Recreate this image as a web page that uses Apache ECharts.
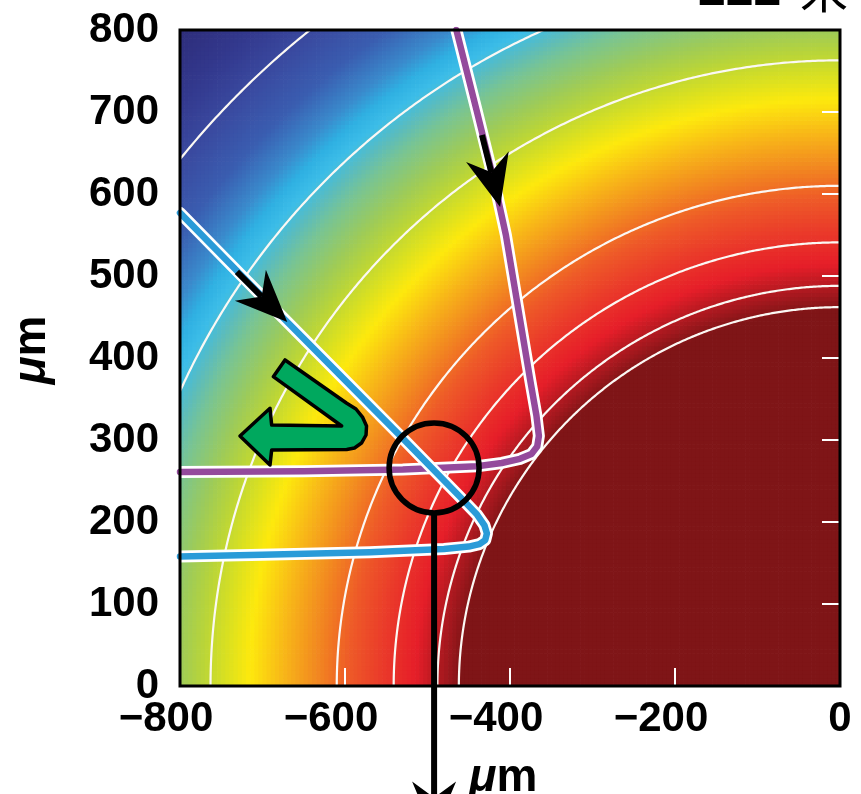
<!DOCTYPE html>
<html><head><meta charset="utf-8">
<script src="https://cdn.jsdelivr.net/npm/echarts@6/dist/echarts.min.js"></script>
<style>html,body{margin:0;padding:0;background:#fff}#c{width:861px;height:794px}</style>
</head><body><div id="c"></div>
<script>
// ---------- axes ----------
const xRange = [-800, 0];
const yRange = [0, 800];
const xTickStep = 200;
const yTickStep = 100;
const cellSize = 5; // heat-field sampling step (µm)

// ---------- radial field profile ----------
// distance from the origin (µm) -> colour level index
const profileRadius = [0, 458, 466, 478, 497, 515, 555, 595, 636, 676, 716, 745, 775, 800, 840, 862, 885, 905, 928, 970, 1020, 1070, 1135];
const profileColor = ['#7f1517','#7f1517','#8c1619','#a3181e','#c41b23','#e61e29','#ea3a2a','#ee5a28','#f28a20','#f8b818','#fde90d','#d9e021','#b7d43b','#9ecb58','#78c494','#5cbcbc','#3cbde8','#2fb0e2','#3a8acc','#3a5db0','#3a4aa0','#33398e','#2d2c79'];

// white contour lines (radius, µm)
const contourRadius = [462, 488, 541, 610, 763, 877, 1026];

// ---------- trajectories ----------
const blueTrackX = [-800, -679, -530, -461, -440, -431, -428, -430, -437, -450, -480, -570, -700, -800];
const blueTrackY = [577, 453, 302, 231, 209, 196, 186, 178, 173, 170, 167, 163, 160, 158];
const purpleTrackX = [-465, -440, -418, -405, -395, -385, -375, -368, -365, -367, -374, -388, -410, -440, -530, -650, -800];
const purpleTrackY = [800, 700, 610, 550, 490, 430, 370, 330, 305, 292, 283, 277, 272, 268, 264, 262, 261];

// black arrows: start -> tip
const arrowFromX = [-731, -434, -492];
const arrowFromY = [505, 672, 211];
const arrowToX = [-670, -412, -492];
const arrowToY = [444, 584, -180];

// black circle
const circleX = [-492];
const circleY = [266];

// green U-turn arrow outline
const greenArrowX = [-672.7, -597.9, -586.7, -578.8, -573.9, -574.5, -580.0, -588.5, -597.9, -688.9, -690.9, -727.3, -690.9, -688.9, -604.0, -686.9];
const greenArrowY = [397.6, 344.8, 337.8, 328.0, 317.1, 306.1, 296.3, 290.2, 288.4, 287.8, 269.5, 304.9, 338.7, 318.3, 317.1, 377.2];

// ---------- build tables ----------
function levelAt(r) {
  for (let i = 0; i < profileRadius.length - 1; i++) {
    if (r < profileRadius[i + 1]) return i + (r - profileRadius[i]) / (profileRadius[i + 1] - profileRadius[i]);
  }
  return profileRadius.length - 1;
}
const fieldData = [];
for (let x = xRange[0] + cellSize / 2; x < xRange[1]; x += cellSize) {
  for (let y = yRange[0] + cellSize / 2; y < yRange[1]; y += cellSize) {
    fieldData.push([x, y, levelAt(Math.sqrt(x * x + y * y))]);
  }
}
const zip = (a, b) => a.map((v, i) => [v, b[i]]);
const FONT = 'Liberation Sans, Arial, Helvetica, sans-serif';
const LABEL_SIZE = 42;
const NAME_SIZE = 46;

const chart = echarts.init(document.getElementById('c'), null, {renderer: 'canvas'});

const tickStyle = {show: true, inside: true, length: 18, lineStyle: {color: '#fff', width: 2}};
const xCommon = {type: 'value', min: xRange[0], max: xRange[1], interval: xTickStep, splitLine: {show: false}, axisLine: {show: false}, axisTick: tickStyle, z: 10};
const yCommon = {type: 'value', min: yRange[0], max: yRange[1], interval: yTickStep, splitLine: {show: false}, axisLine: {show: false}, axisTick: tickStyle, z: 10};
const nameRich = {
  i: {fontSize: NAME_SIZE, fontWeight: 'bold', fontStyle: 'italic', fontFamily: FONT, fill: '#000'},
  m: {fontSize: NAME_SIZE, fontWeight: 'bold', fontFamily: FONT, fill: '#000'}
};

chart.setOption({
  animation: false,
  backgroundColor: '#fff',
  grid: {left: 180, right: 21, top: 30, bottom: 108, show: true, borderColor: '#000', borderWidth: 3, backgroundColor: 'rgba(0,0,0,0)', z: 20},
  xAxis: [
    Object.assign({}, xCommon, {position: 'bottom', axisLabel: {
      margin: 12,
      formatter: v => v < 0 ? '{n|\u2212' + Math.abs(v) + '}' : '{p|' + v + '}',
      rich: {
        n: {fontSize: LABEL_SIZE, fontWeight: 'bold', color: '#000', fontFamily: FONT, padding: [0, 28, 0, 0]},
        p: {fontSize: LABEL_SIZE, fontWeight: 'bold', color: '#000', fontFamily: FONT}
      }
    }}),
    Object.assign({}, xCommon, {position: 'top', axisLabel: {show: false}})
  ],
  yAxis: [
    Object.assign({}, yCommon, {position: 'left', axisLabel: {margin: 21, fontSize: LABEL_SIZE, fontWeight: 'bold', color: '#000', fontFamily: FONT}}),
    Object.assign({}, yCommon, {position: 'right', axisLabel: {show: false}})
  ],
  visualMap: {
    show: false, type: 'continuous', seriesIndex: 0, dimension: 2,
    min: 0, max: profileColor.length - 1, inRange: {color: profileColor}
  },
  graphic: [
    {type: 'text', x: 32, y: 350, rotation: Math.PI / 2, z: 30,
     style: {text: '{i|\u03bc}{m|m}', align: 'center', verticalAlign: 'middle', rich: nameRich}},
    {type: 'text', x: 503, y: 778, z: 30,
     style: {text: '{i|\u03bc}{m|m}', align: 'center', verticalAlign: 'middle', rich: nameRich}},
    {type: 'text', x: 698, y: 16, z: 30,
     style: {text: '222', align: 'left', verticalAlign: 'bottom', fontSize: 50, fontWeight: 'bold', fontFamily: FONT, fill: '#000'}},
    {type: 'text', x: 800, y: 14, z: 30,
     style: {text: '\u7c73', align: 'left', verticalAlign: 'bottom', fontSize: 48, fontFamily: 'Noto Sans CJK JP, sans-serif', fill: '#000'}}
  ],
  series: [
    { // heat field
      type: 'custom', z: 1, clip: true, silent: true,
      data: fieldData,
      encode: {x: 0, y: 1},
      renderItem: (params, api) => {
        const x = api.value(0), y = api.value(1);
        const p0 = api.coord([x - cellSize / 2, y + cellSize / 2]);
        const p1 = api.coord([x + cellSize / 2, y - cellSize / 2]);
        return {type: 'rect', shape: {x: p0[0], y: p0[1], width: p1[0] - p0[0] + 0.7, height: p1[1] - p0[1] + 0.7},
                style: {fill: api.visual('color')}};
      }
    },
    { // contour lines
      type: 'custom', z: 2, clip: true, silent: true,
      data: contourRadius.map(r => [r]),
      encode: {x: -1, y: -1},
      renderItem: (params, api) => {
        const r = api.value(0);
        const pts = [];
        for (let k = 0; k <= 360; k++) {
          const a = Math.PI / 2 + (Math.PI / 2) * k / 360;
          const x = r * Math.cos(a), y = r * Math.sin(a);
          if (x >= xRange[0] - 15 && y <= yRange[1] + 15) pts.push(api.coord([x, y]));
        }
        return {type: 'polyline', shape: {points: pts}, style: {stroke: '#fbf8f4', lineWidth: 2.2, fill: null}};
      }
    },
    {type: 'line', z: 3, data: zip(purpleTrackX, purpleTrackY), symbol: 'none', silent: true,
     lineStyle: {color: '#fff', width: 12, join: 'round', cap: 'round'}},
    {type: 'line', z: 3, data: zip(purpleTrackX, purpleTrackY), symbol: 'none', silent: true,
     lineStyle: {color: '#944a9c', width: 6.5, join: 'round', cap: 'round'}},
    {type: 'line', z: 4, data: zip(blueTrackX, blueTrackY), symbol: 'none', silent: true,
     lineStyle: {color: '#fff', width: 12, join: 'round', cap: 'round'}},
    {type: 'line', z: 4, data: zip(blueTrackX, blueTrackY), symbol: 'none', silent: true,
     lineStyle: {color: '#2a9bd8', width: 6.5, join: 'round', cap: 'round'}},
    { // black circle
      type: 'custom', z: 5, clip: false, silent: true, data: zip(circleX, circleY),
      renderItem: (params, api) => {
        const c = api.coord([api.value(0), api.value(1)]);
        return {type: 'circle', shape: {cx: c[0], cy: c[1], r: 45}, style: {fill: null, stroke: '#000', lineWidth: 5.5}};
      }
    },
    { // black arrows
      type: 'custom', z: 6, clip: false, silent: true,
      data: arrowFromX.map((v, i) => [v, arrowFromY[i], arrowToX[i], arrowToY[i]]),
      encode: {x: [0, 2], y: [1, 3]},
      renderItem: (params, api) => {
        const p0 = api.coord([api.value(0), api.value(1)]);
        const p1 = api.coord([api.value(2), api.value(3)]);
        const dx = p1[0] - p0[0], dy = p1[1] - p0[1];
        const L = Math.sqrt(dx * dx + dy * dy);
        const ux = dx / L, uy = dy / L, nx = -uy, ny = ux;
        const headLen = 52, halfW = 22, notch = 36;
        const back = d => [p1[0] - ux * d, p1[1] - uy * d];
        const bw = back(headLen), bn = back(notch);
        return {type: 'group', children: [
          {type: 'line', shape: {x1: p0[0], y1: p0[1], x2: bn[0], y2: bn[1]}, style: {stroke: '#000', lineWidth: 6}},
          {type: 'polygon', shape: {points: [p1, [bw[0] + nx * halfW, bw[1] + ny * halfW], bn, [bw[0] - nx * halfW, bw[1] - ny * halfW]]},
           style: {fill: '#000'}}
        ]};
      }
    },
    { // green U-turn arrow
      type: 'custom', z: 6, clip: false, silent: true,
      data: [[greenArrowX[0], greenArrowY[0]]],
      renderItem: (params, api) => {
        const pts = greenArrowX.map((x, i) => api.coord([x, greenArrowY[i]]));
        return {type: 'polygon', shape: {points: pts}, style: {fill: '#00a85e', stroke: '#000', lineWidth: 3.5, lineJoin: 'round'}};
      }
    }
  ]
});
</script></body></html>
